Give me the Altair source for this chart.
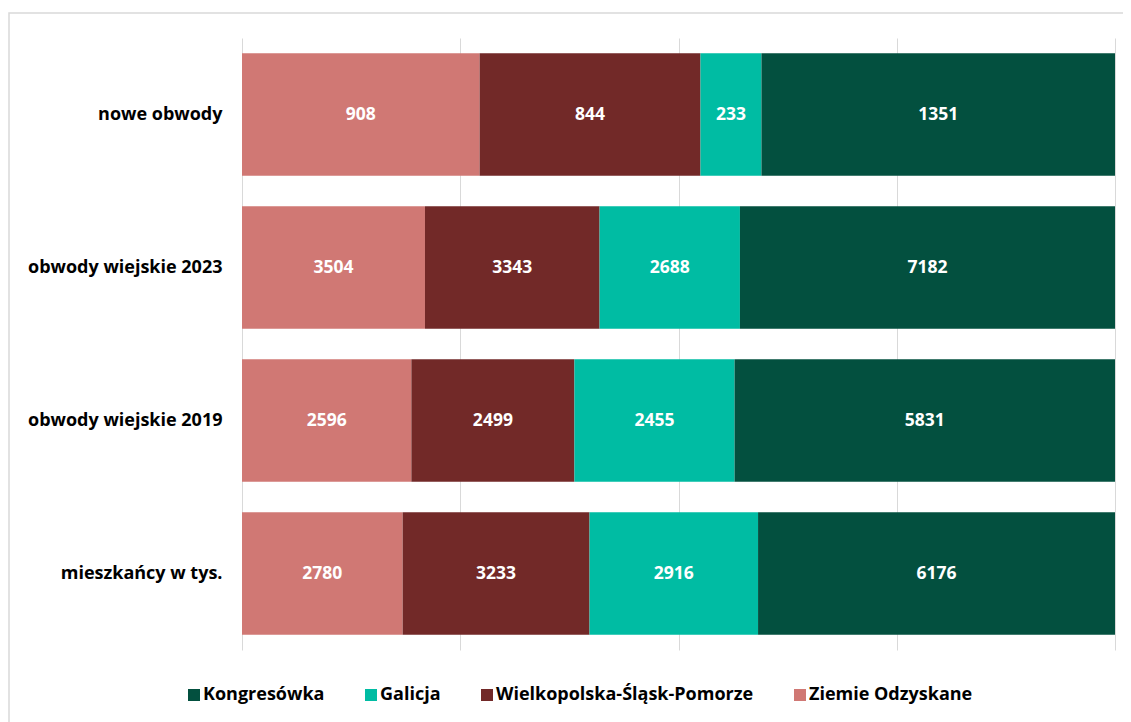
import altair as alt
import pandas as pd

categories = ["nowe obwody", "obwody wiejskie 2023", "obwody wiejskie 2019", "mieszkańcy w tys."]
regions = ["Ziemie Odzyskane", "Wielkopolska-Śląsk-Pomorze", "Galicja", "Kongresówka"]
ziemie = [908, 3504, 2596, 2780]
wielkopolska = [844, 3343, 2499, 3233]
galicja = [233, 2688, 2455, 2916]
kongresowka = [1351, 7182, 5831, 6176]

legend_order = ["Kongresówka", "Galicja", "Wielkopolska-Śląsk-Pomorze", "Ziemie Odzyskane"]
legend_colors = ["#03503F", "#00BCA3", "#722928", "#D07874"]

series = [ziemie, wielkopolska, galicja, kongresowka]
rows = []
for ri, (reg, vals) in enumerate(zip(regions, series)):
    for cat, v in zip(categories, vals):
        rows.append({"category": cat, "region": reg, "value": v, "order": ri})
df = pd.DataFrame(rows)

FONT = "Open Sans"

base = (
    alt.Chart(df)
    .transform_joinaggregate(total="sum(value)", groupby=["category"])
    .transform_calculate(frac="datum.value / datum.total")
    .transform_stack(stack="frac", as_=["x0", "x1"], groupby=["category"],
                     sort=[alt.SortField("order", order="ascending")])
    .transform_calculate(mid="(datum.x0 + datum.x1) / 2")
)

yenc = alt.Y(
    "category:N", sort=categories, title=None,
    scale=alt.Scale(paddingInner=0.2, paddingOuter=0.1),
    axis=alt.Axis(ticks=False, domain=False, labelFontSize=18, labelFontWeight="bold",
                  labelColor="#000000", labelPadding=20, labelFont=FONT, grid=False,
                  labelLimit=400),
)

bars = base.mark_bar().encode(
    y=yenc,
    x=alt.X("x0:Q", scale=alt.Scale(domain=[0, 1]), title=None,
            axis=alt.Axis(values=[0, 0.25, 0.5, 0.75, 1], labels=False, ticks=False,
                          domain=False, grid=True, gridColor="#D9D9D9", gridWidth=1)),
    x2="x1:Q",
    color=alt.Color(
        "region:N",
        scale=alt.Scale(domain=legend_order, range=legend_colors),
        legend=alt.Legend(
            title=None, orient="none", direction="horizontal",
            legendX=-57, legendY=648,
            symbolType="square", symbolSize=144, symbolStrokeWidth=0,
            labelFontSize=18, labelFontWeight="bold", labelColor="#000000",
            labelFont=FONT, labelOffset=0, columnPadding=37, labelLimit=400,
        ),
    ),
)

text = base.mark_text(color="white", fontWeight="bold", fontSize=17.5, font=FONT).encode(
    y=alt.Y("category:N", sort=categories),
    x=alt.X("mid:Q"),
    text=alt.Text("value:Q"),
)

frame = alt.Chart(pd.DataFrame({"a": [0]})).mark_rect(
    fillOpacity=0, stroke="#D9D9D9", strokeWidth=1.5
).encode(x=alt.value(-233), x2=alt.value(1000), y=alt.value(-25), y2=alt.value(1000))

chart = (
    alt.layer(frame, bars, text)
    .properties(
        width=873, height=612,
        autosize=alt.AutoSizeParams(type="none"),
        padding={"left": 234, "top": 30, "right": 8, "bottom": 90},
    )
    .configure_view(stroke=None)
)

chart.save("out.html", embed_options={"renderer": "svg", "actions": False})
